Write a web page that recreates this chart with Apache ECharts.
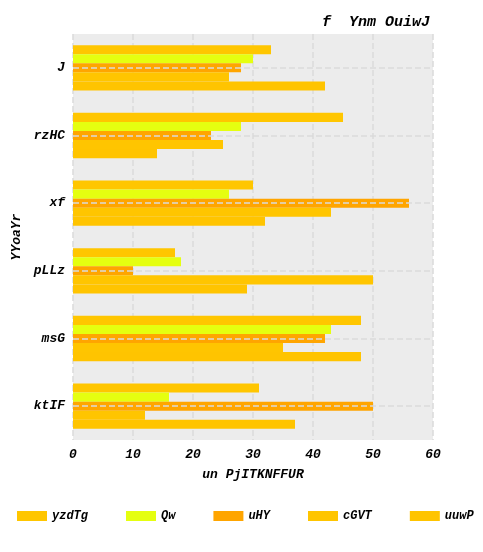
<!DOCTYPE html>
<html><head><meta charset="utf-8">
<script src="https://cdn.jsdelivr.net/npm/echarts@6/dist/echarts.min.js"></script>
<style>html,body{margin:0;padding:0;background:#fff}#c{width:483px;height:552px}</style>
</head><body><div id="c"></div>
<script>
const categories = ["J","rzHC","xf","pLLz","msG","ktIF"];
const seriesNames = ["yzdTg","Qw","uHY","cGVT","uuwP"];
const yzdTg = [33,45,30,17,48,31];
const Qw = [30,28,26,18,43,16];
const uHY = [28,23,56,10,42,50];
const cGVT = [26,25,43,50,35,12];
const uuwP = [42,14,32,29,48,37];
const colors = ["#ffc600","#e5ff10","#ffa500","#ffc500","#ffc400"];
const F = {fontFamily:"Liberation Mono", fontStyle:"italic", fontWeight:"bold", color:"#000"};
const chart = echarts.init(document.getElementById('c'));
const bars = [yzdTg,Qw,uHY,cGVT,uuwP].map((d,i)=>({type:"bar", name:seriesNames[i], data:d, z:3,
    itemStyle:{color:colors[i]}, barGap:"0%", barCategoryGap:"33%"}));
bars.push({type:"line", name:"_grid", data:[], z:1, silent:true,
  markLine:{silent:true, symbol:"none", label:{show:false},
    lineStyle:{color:"#dadada", type:"dashed", width:1.5},
    data:categories.map(c=>({yAxis:c}))}});
chart.setOption({
  animation:false,
  title:{text:"f  Ynm OuiwJ", right:48, top:10, textStyle:Object.assign({fontSize:15},F)},
  legend:{top:505, left:12, width:600, itemWidth:30, itemHeight:10, itemGap:38, icon:"rect",
    textStyle:Object.assign({fontSize:12},F), data:seriesNames},
  grid:{left:73, right:50, top:34, bottom:112, backgroundColor:"#ececec", show:true, borderWidth:0},
  xAxis:{type:"value", min:0, max:60, interval:10,
    name:"un PjITKNFFUR", nameLocation:"middle", nameGap:28, nameTextStyle:Object.assign({fontSize:13},F),
    axisLabel:Object.assign({fontSize:13},F), axisLine:{show:false}, axisTick:{show:false},
    splitLine:{lineStyle:{color:"#dadada", type:"dashed", width:1.5}}},
  yAxis:{type:"category", data:categories, inverse:true,
    name:"YYoaYr", nameLocation:"middle", nameGap:45, nameTextStyle:Object.assign({fontSize:13},F),
    axisLabel:Object.assign({fontSize:13},F), axisLine:{show:false}, axisTick:{show:false},
    splitLine:{show:false}},
  series:bars
});
</script></body></html>
